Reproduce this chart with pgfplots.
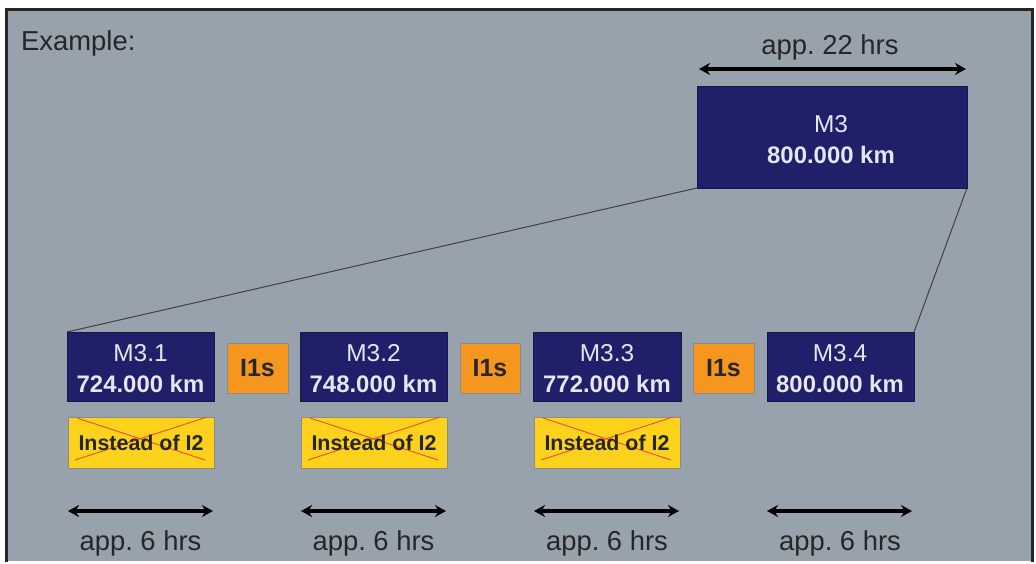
\documentclass[border=0pt]{standalone}
\usepackage{pgfplots}
\pgfplotsset{compat=1.18}
\usepackage{fontspec}
\setmainfont{Liberation Sans}
\usetikzlibrary{arrows.meta}
\definecolor{bg}{HTML}{98A2AD}
\definecolor{navy}{HTML}{1F1F6A}
\definecolor{orng}{HTML}{F5961E}
\definecolor{yell}{HTML}{FCD21C}
\definecolor{txt}{HTML}{262626}
\definecolor{boxtxt}{HTML}{E6E6F0}
\definecolor{xred}{HTML}{E5502E}
\tikzset{
  lbl/.style={text=txt, font=\fontsize{27.5}{32}\selectfont, inner sep=0pt},
  mlbl/.style={text=boxtxt, font=\fontsize{24.5}{29}\selectfont, inner sep=0pt},
  kmlbl/.style={text=boxtxt, font=\bfseries\fontsize{24}{28}\selectfont, inner sep=0pt},
  ilbl/.style={text=txt, font=\bfseries\fontsize{21.5}{25}\selectfont, inner sep=0pt},
  olbl/.style={text=txt, font=\bfseries\fontsize{25}{29}\selectfont, inner sep=0pt},
  dbl/.style={draw=black, line width=3.6bp, {Stealth[length=11bp,width=12bp]}-{Stealth[length=11bp,width=12bp]}},
}
\begin{document}
\frenchspacing
\begin{tikzpicture}
\begin{axis}[
  scale only axis, width=1036bp, height=561bp,
  xmin=0, xmax=1036, ymin=0, ymax=561, y dir=reverse,
  axis lines=none, clip=false,
  every axis plot/.append style={mark=none},
]
% page background and frame
\addplot[fill=white, draw=none] coordinates {(0,0)(1036,0)(1036,561)(0,561)} -- cycle;
\addplot[fill=bg, draw=none] coordinates {(5,8)(1033,8)(1033,561)(5,561)} -- cycle;
\addplot[draw=black!85, line width=3bp] coordinates {(6,562)(6,9.5)(1032,9.5)(1032,562)};
% connecting lines
\addplot[draw=black!75, line width=1bp] coordinates {(697,188)(67,332)};
\addplot[draw=black!75, line width=1bp] coordinates {(967,188)(914,332)};
% big M3 box
\addplot[fill=navy, draw=navy!70!black, line width=0.8bp] coordinates {(697,86)(967,86)(967,188)(697,188)} -- cycle;
% M3.x boxes
\addplot[fill=navy, draw=navy!70!black, line width=0.8bp] coordinates {(67,332)(214,332)(214,401)(67,401)} -- cycle;
\addplot[fill=navy, draw=navy!70!black, line width=0.8bp] coordinates {(300,332)(447,332)(447,401)(300,401)} -- cycle;
\addplot[fill=navy, draw=navy!70!black, line width=0.8bp] coordinates {(533,332)(681,332)(681,401)(533,401)} -- cycle;
\addplot[fill=navy, draw=navy!70!black, line width=0.8bp] coordinates {(767,332)(914,332)(914,401)(767,401)} -- cycle;
% I1s boxes
\addplot[fill=orng, draw=black!45, line width=0.8bp] coordinates {(227,343)(288,343)(288,393)(227,393)} -- cycle;
\addplot[fill=orng, draw=black!45, line width=0.8bp] coordinates {(460,343)(520,343)(520,393)(460,393)} -- cycle;
\addplot[fill=orng, draw=black!45, line width=0.8bp] coordinates {(693,343)(754,343)(754,393)(693,393)} -- cycle;
% yellow boxes
\addplot[fill=yell, draw=black!45, line width=0.8bp] coordinates {(68,417)(214,417)(214,468)(68,468)} -- cycle;
\addplot[fill=yell, draw=black!45, line width=0.8bp] coordinates {(301,417)(447,417)(447,468)(301,468)} -- cycle;
\addplot[fill=yell, draw=black!45, line width=0.8bp] coordinates {(534,417)(680,417)(680,468)(534,468)} -- cycle;
% red crosses
\addplot[draw=xred, line width=0.9bp] coordinates {(77,418)(205,460)};
\addplot[draw=xred, line width=0.9bp] coordinates {(75,460)(207,417)};
\addplot[draw=xred, line width=0.9bp] coordinates {(310,418)(438,460)};
\addplot[draw=xred, line width=0.9bp] coordinates {(308,460)(440,417)};
\addplot[draw=xred, line width=0.9bp] coordinates {(543,418)(671,460)};
\addplot[draw=xred, line width=0.9bp] coordinates {(541,460)(673,417)};
% arrows
\addplot[dbl] coordinates {(699,69)(966,69)};
\addplot[dbl] coordinates {(68,511)(213,511)};
\addplot[dbl] coordinates {(301,511)(446,511)};
\addplot[dbl] coordinates {(534,511)(679,511)};
\addplot[dbl] coordinates {(767,511)(912,511)};
% texts
\node[lbl, anchor=west] at (axis cs:21,43) {Example:};
\node[lbl] at (axis cs:830,47) {app. 22 hrs};
\node[mlbl] at (axis cs:831,124) {M3};
\node[kmlbl] at (axis cs:831,155) {800.000 km};
\node[mlbl] at (axis cs:140.5,353) {M3.1};
\node[mlbl] at (axis cs:373.5,353) {M3.2};
\node[mlbl] at (axis cs:607,353) {M3.3};
\node[mlbl] at (axis cs:840,353) {M3.4};
\node[kmlbl] at (axis cs:140.5,384) {724.000 km};
\node[kmlbl] at (axis cs:373.5,384) {748.000 km};
\node[kmlbl] at (axis cs:607,384) {772.000 km};
\node[kmlbl] at (axis cs:840,384) {800.000 km};
\node[ilbl] at (axis cs:141,443) {Instead of I2};
\node[ilbl] at (axis cs:374,443) {Instead of I2};
\node[ilbl] at (axis cs:607,443) {Instead of I2};
\node[olbl] at (axis cs:257.5,368) {I1s};
\node[olbl] at (axis cs:490,368) {I1s};
\node[olbl] at (axis cs:723.5,368) {I1s};
\node[lbl] at (axis cs:140.5,543) {app. 6 hrs};
\node[lbl] at (axis cs:373.5,543) {app. 6 hrs};
\node[lbl] at (axis cs:607,543) {app. 6 hrs};
\node[lbl] at (axis cs:840,543) {app. 6 hrs};
\end{axis}
\end{tikzpicture}
\end{document}
